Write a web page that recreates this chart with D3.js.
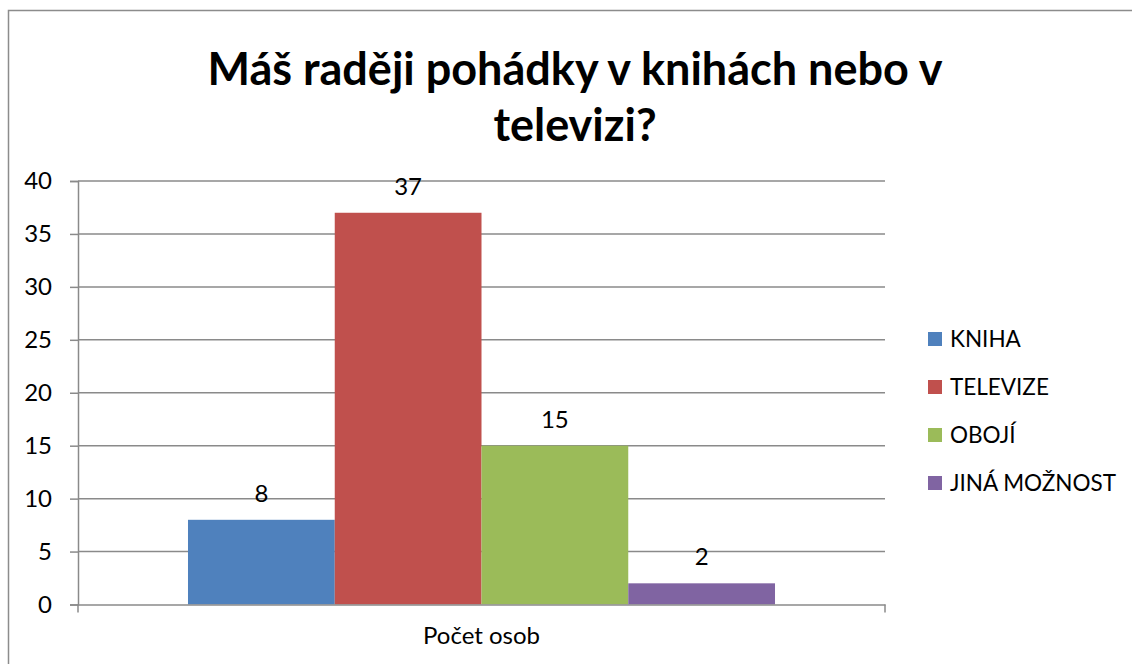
<!DOCTYPE html>
<html><head><meta charset="utf-8">
<script src="https://cdn.jsdelivr.net/npm/d3@7"></script>
<style>html,body{margin:0;padding:0;background:#fff;}</style>
</head><body>
<svg id="c" width="1132" height="664"></svg>
<script>
const titleLines = ["Máš raději pohádky v knihách nebo v", "televizi?"];
const categoryLabel = "Počet osob";
const seriesNames = ["KNIHA", "TELEVIZE", "OBOJÍ", "JINÁ MOŽNOST"];
const seriesValues = [8, 37, 15, 2];
const seriesColors = ["#4F81BD", "#C0504D", "#9BBB59", "#8064A2"];
const yTicks = [0, 5, 10, 15, 20, 25, 30, 35, 40];

(function () {
const font = "Lato, 'Open Sans', sans-serif";
const svg = d3.select("#c");
svg.append("rect").attr("x", 8.5).attr("y", 10.5).attr("width", 1140).attr("height", 680)
  .attr("fill", "#fff").attr("stroke", "#8c8c8c").attr("stroke-width", 1.5);

const pL = 78, pR = 885, pT = 181, pB = 604.5;
const y = d3.scaleLinear().domain([0, 40]).range([pB, pT]);
const x0 = d3.scaleBand().domain([categoryLabel]).range([pL, pR]).paddingInner(0).paddingOuter(0);
const x1 = d3.scaleBand().domain(seriesNames)
  .range([x0(categoryLabel) + x0.bandwidth() * 0.1363, x0(categoryLabel) + x0.bandwidth() * (1 - 0.1363)])
  .padding(0);

// gridlines
svg.append("g").selectAll("line").data(yTicks.filter(d => d > 0)).join("line")
  .attr("x1", pL).attr("x2", pR).attr("y1", d => y(d)).attr("y2", d => y(d))
  .attr("stroke", "#8a8a8a").attr("stroke-width", 1.5);

// y axis
const yAxis = d3.axisLeft(y).tickValues(yTicks).tickSize(8).tickPadding(18);
const gy = svg.append("g").attr("transform", `translate(${pL},0)`).call(yAxis);
gy.select(".domain").attr("stroke", "#8a8a8a").attr("stroke-width", 1.5);
gy.selectAll(".tick line").attr("stroke", "#8a8a8a").attr("stroke-width", 1.5);
gy.selectAll(".tick text").attr("font-family", font).attr("font-size", 24).attr("fill", "#000");

// bars
svg.append("g").selectAll("rect").data(seriesValues).join("rect")
  .attr("x", (d, i) => x1(seriesNames[i]))
  .attr("width", x1.bandwidth())
  .attr("y", d => y(d)).attr("height", d => pB - y(d))
  .attr("fill", (d, i) => seriesColors[i]);

// data labels
svg.append("g").selectAll("text").data(seriesValues).join("text")
  .attr("x", (d, i) => x1(seriesNames[i]) + x1.bandwidth() / 2)
  .attr("y", d => y(d) - 18)
  .attr("text-anchor", "middle").attr("font-family", font).attr("font-size", 24).attr("fill", "#000")
  .text(d => d);

// x axis
const xAxis = d3.axisBottom(x0).tickSize(0).tickPadding(22);
const gx = svg.append("g").attr("transform", `translate(0,${pB})`).call(xAxis);
gx.select(".domain").attr("stroke", "#8a8a8a").attr("stroke-width", 1.5);
gx.selectAll(".tick text").attr("font-family", font).attr("font-size", 24).attr("fill", "#000");
svg.append("g").selectAll("line").data([pL, pR]).join("line")
  .attr("x1", d => d).attr("x2", d => d).attr("y1", pB).attr("y2", pB + 8)
  .attr("stroke", "#8a8a8a").attr("stroke-width", 1.5);

// title
svg.append("g").selectAll("text").data(titleLines).join("text")
  .attr("x", 575).attr("y", (d, i) => 85 + i * 56)
  .attr("text-anchor", "middle").attr("font-family", font).attr("font-weight", "bold")
  .attr("font-size", 45).attr("fill", "#000").text(d => d);

// legend
const lg = svg.append("g").selectAll("g").data(seriesNames).join("g")
  .attr("transform", (d, i) => `translate(928,${339 + i * 48})`);
lg.append("rect").attr("x", 0).attr("y", -7).attr("width", 14).attr("height", 14)
  .attr("fill", (d, i) => seriesColors[i]);
lg.append("text").attr("x", 22).attr("y", 0).attr("dy", "0.35em")
  .attr("font-family", font).attr("font-size", 22.5).attr("fill", "#000").text(d => d);
})();
</script>
</body></html>
